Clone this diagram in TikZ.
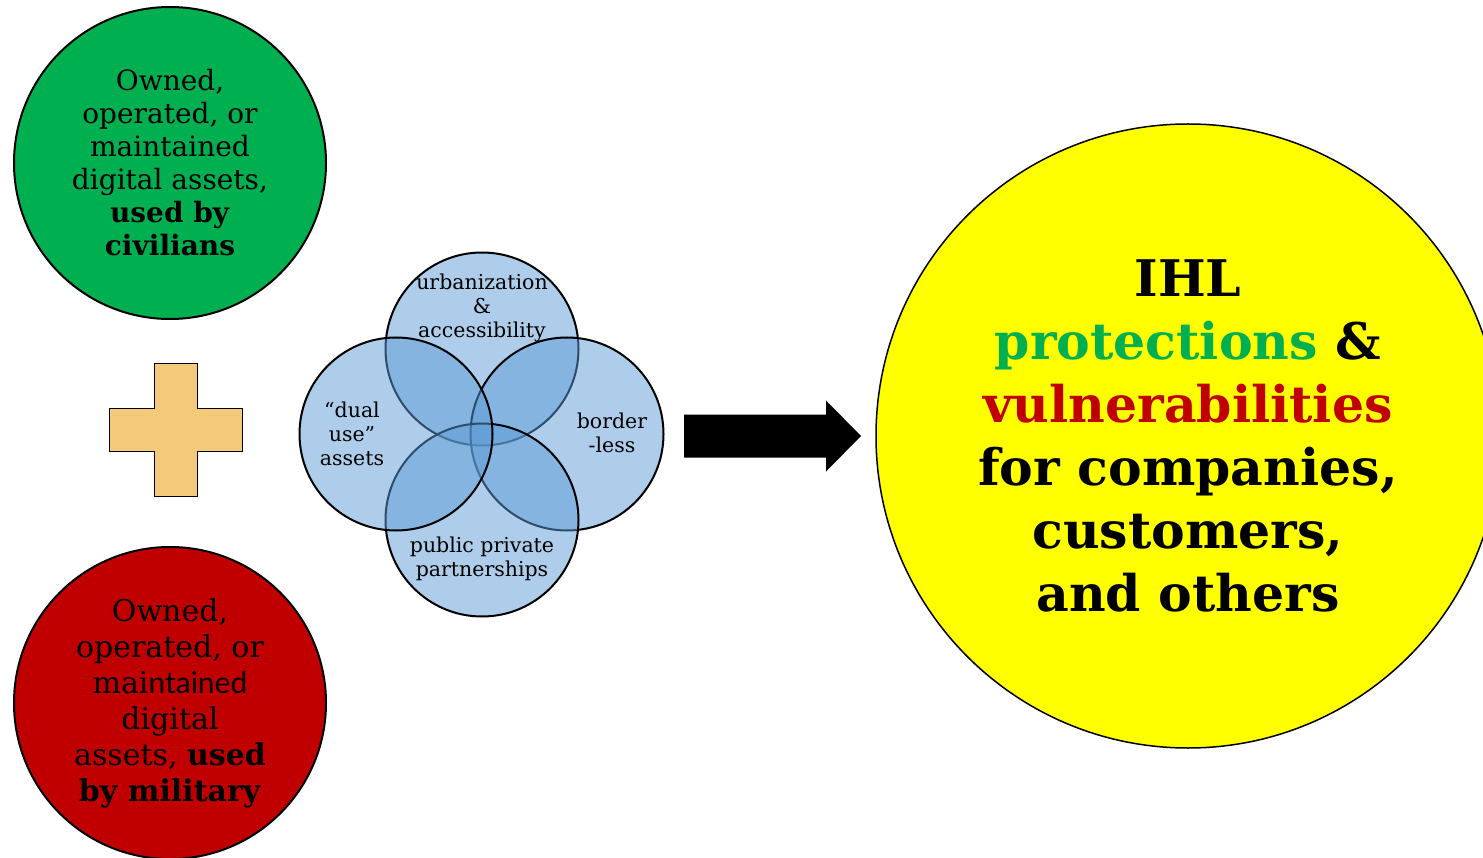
\documentclass[tikz,border=0pt]{standalone}
\usepackage{fontspec}
\setmainfont{DejaVu Serif}
\newfontfamily\mixsans{Lato}
\definecolor{civgreen}{RGB}{0,176,80}
\definecolor{milred}{RGB}{192,0,0}
\definecolor{plusfill}{RGB}{242,202,122}
\definecolor{vennblue}{RGB}{91,155,213}
\definecolor{ihlyellow}{RGB}{255,255,0}
\tikzset{
  bigdisc/.style={circle, draw=black, line width=2pt, minimum size=312pt, inner sep=0pt, align=center},
  venndisc/.style={circle, draw=black, line width=2pt, fill=vennblue, fill opacity=0.5, minimum size=193pt, inner sep=0pt},
  venntext/.style={align=center, font=\fontsize{20.5}{24}\selectfont, inner sep=0pt},
  plusshape/.style={draw=black, line width=1.5pt, fill=plusfill, line join=miter},
  blockarrow/.style={fill=black},
}
\begin{document}
\begin{tikzpicture}[x=1pt,y=-1pt]
\useasboundingbox (0,0) rectangle (1483,858);

% left column: civilian and military assets
\node[bigdisc, fill=civgreen, font=\fontsize{28}{33}\selectfont] (civ) at (170,163)
  {Owned,\\operated, or\\maintained\\digital assets,\\\textbf{used by}\\\textbf{civilians}};
\node[bigdisc, fill=milred, font=\fontsize{30}{36}\selectfont] (mil) at (170,703)
  {Owned,\\operated, or\\mai{\mixsans ntained}\\digital\\assets, \textbf{used}\\\textbf{by military}};

% plus sign
\coordinate (plus) at (176,430);
\draw[plusshape] (plus)
  ++(-21.5,-66.5) -- ++(43,0) -- ++(0,45) -- ++(45,0) -- ++(0,43) -- ++(-45,0)
  -- ++(0,45) -- ++(-43,0) -- ++(0,-45) -- ++(-45,0) -- ++(0,-43) -- ++(45,0) -- cycle;

% four overlapping factors
\node[venndisc] (vtop) at (482,349) {};
\node[venndisc] (vright) at (567,434) {};
\node[venndisc] (vbottom) at (482,520) {};
\node[venndisc] (vleft) at (396,434) {};
\node[venntext] (ttop) at (482,308) {urbanization\\\&\\accessibility};
\node[venntext] (tleft) at (352,434) {“dual\\use”\\assets};
\node[venntext] (tright) at (612,433) {border\\-less};
\node[venntext] (tbottom) at (482,559) {public private\\partnerships};

% block arrow towards the outcome
\coordinate (arr) at (684,436);
\fill[blockarrow] (arr) ++(0,-21.5) -- ++(142,0) -- ++(0,-14) -- ++(35,35.5)
  -- ++(-35,35.5) -- ++(0,-14) -- ++(-142,0) -- cycle;

% outcome
\node[bigdisc, fill=ihlyellow, line width=1.5pt, minimum size=624pt,
      font=\fontsize{50.5}{63}\selectfont\bfseries] (ihl) at (1188,436)
  {IHL\\\textcolor{civgreen}{protections} \&\\\textcolor{milred}{vulnerabilities}\\for companies,\\customers,\\and others};
\end{tikzpicture}
\end{document}
